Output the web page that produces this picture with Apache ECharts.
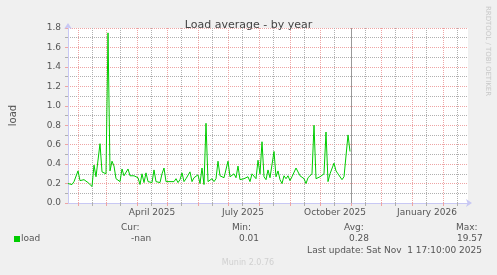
<!DOCTYPE html>
<html><head><meta charset="utf-8">
<script src="https://cdn.jsdelivr.net/npm/echarts@6/dist/echarts.min.js"></script>
<style>html,body{margin:0;padding:0;background:#f0f0f0}#c{width:497px;height:275px}</style>
</head><body><div id="c"></div>
<script>
const chartTitle = 'Load average - by year';
const seriesName = 'load';
const yAxisName = 'load';
const startDate = '2025-01-22';
const stepDays = 2;
const loadValues = [
  0.20,0.21,0.19,0.22,0.21,0.33,0.23,0.22,0.24,0.23,
  0.21,0.20,0.17,0.39,0.27,0.25,0.61,0.32,0.32,0.30,
  1.75,0.33,0.43,0.38,0.25,0.23,0.22,0.35,0.28,0.27,
  0.35,0.28,0.27,0.28,0.27,0.26,0.19,0.30,0.21,0.31,
  0.22,0.24,0.21,0.34,0.22,0.23,0.21,0.30,0.36,0.22,
  0.20,0.22,0.20,0.22,0.25,0.21,0.24,0.31,0.22,0.25,
  0.23,0.32,0.22,0.26,0.24,0.29,0.20,0.36,0.19,0.82,
  0.22,0.20,0.25,0.22,0.25,0.43,0.28,0.27,0.26,0.28,
  0.43,0.27,0.25,0.30,0.26,0.38,0.24,0.22,0.25,0.23,
  0.27,0.22,0.30,0.29,0.25,0.44,0.30,0.63,0.27,0.24,
  0.34,0.26,0.27,0.53,0.27,0.33,0.24,0.20,0.28,0.25,
  0.28,0.23,0.27,0.25,0.36,0.37,0.28,0.30,0.25,0.20,
  0.26,0.27,0.30,0.80,0.25,0.24,0.27,0.28,0.30,0.73,
  0.22,0.30,0.32,0.41,0.33,0.30,0.28,0.24,0.27,0.27,
  0.70,0.53
];
const axisStart = '2025-01-22';
const axisEnd = '2026-02-26';
const monthTicks = ['2025-02-01','2025-03-01','2025-04-01','2025-05-01','2025-06-01','2025-07-01',
  '2025-08-01','2025-09-01','2025-10-01','2025-11-01','2025-12-01','2026-01-01','2026-02-01'];
const halfMonthTicks = ['2025-02-15','2025-03-15','2025-04-15','2025-05-15','2025-06-15','2025-07-15',
  '2025-08-15','2025-09-15','2025-10-15','2025-11-15','2025-12-15','2026-01-15','2026-02-15'];
const labelDates = ['2025-04-16','2025-07-16','2025-10-16','2026-01-16'];
const tickLabels = ['April 2025','July 2025','October 2025','January 2026'];
const nowDate = '2025-11-01';
const yMin = 0, yMax = 1.8, yStep = 0.2;
const yMinorTicks = [0.1,0.3,0.5,0.7,0.9,1.1,1.3,1.5,1.7];
const statLabels = ['Cur:','Min:','Avg:','Max:'];
const statValues = ['-nan','0.01','0.28','19.57'];
const lastUpdate = 'Last update: Sat Nov  1 17:10:00 2025';
const versionText = 'Munin 2.0.76';
const watermark = 'RRDTOOL / TOBI OETIKER';

const DAY = 86400000;
const t = s => Date.UTC(+s.slice(0,4), +s.slice(5,7)-1, +s.slice(8,10));
const t0 = t(startDate);
const seriesData = loadValues.map((v,i) => [t0 + i*stepDays*DAY, v]);
const labelTimes = labelDates.map(t);

const FONT = 'DejaVu Sans';
const TXT = '#555';
const RED = '#eea4a4';
const GRAY = '#b0b0b0';
const AXIS = '#c8c8f4';

const chart = echarts.init(document.getElementById('c'), null, {renderer:'canvas'});

const statX = [[121,131],[232,239],[344,349],[456,457]];
const graphics = [];
statLabels.forEach((s,i) => {
  graphics.push({type:'text', silent:true, style:{text:s, x:statX[i][0], y:228, fill:TXT, font:'9px "'+FONT+'"', textVerticalAlign:'middle'}});
  graphics.push({type:'text', silent:true, style:{text:statValues[i], x:statX[i][1], y:239, fill:TXT, font:'9px "'+FONT+'"', textVerticalAlign:'middle'}});
});
graphics.push({type:'rect', silent:true, shape:{x:14, y:236, width:6, height:6}, style:{fill:'#00cc00'}});
graphics.push({type:'text', silent:true, style:{text:seriesName, x:21, y:239, fill:TXT, font:'9px "'+FONT+'"', textVerticalAlign:'middle'}});
graphics.push({type:'text', silent:true, style:{text:lastUpdate, x:482, y:251, fill:TXT, font:'9px "'+FONT+'"', textAlign:'right', textVerticalAlign:'middle'}});
graphics.push({type:'text', silent:true, style:{text:versionText, x:248, y:263, fill:'#d0d0d0', font:'8px "'+FONT+'"', textAlign:'center', textVerticalAlign:'middle'}});
graphics.push({type:'text', silent:true, x:487.5, y:51, rotation:-Math.PI/2, style:{text:watermark, x:0, y:0, fill:'#c8c8c8', font:'7px "'+FONT+'"', textAlign:'center', textVerticalAlign:'middle'}});

chart.setOption({
  animation:false,
  backgroundColor:'#f0f0f0',
  textStyle:{fontFamily:FONT},
  title:{text:chartTitle, left:'center', top:15, textStyle:{fontSize:11, fontWeight:'normal', color:'#444', fontFamily:FONT}},
  grid:{left:67, right:29, top:28, bottom:72, show:true, backgroundColor:'#fff', borderWidth:0, containLabel:false},
  xAxis:[{
    type:'value', min:t(axisStart), max:t(axisEnd),
    axisLine:{show:false},
    axisTick:{show:true, length:3, customValues:halfMonthTicks.map(t), lineStyle:{color:GRAY}},
    axisLabel:{show:false},
    splitLine:{show:true, lineStyle:{color:GRAY, type:[1,1], width:1}}
  },{
    type:'value', min:t(axisStart), max:t(axisEnd), position:'bottom',
    axisLine:{show:true, lineStyle:{color:AXIS, width:1}, symbol:['none','arrow'], symbolSize:[6,6], symbolOffset:[0,4]},
    axisTick:{show:true, length:3, customValues:monthTicks.map(t), lineStyle:{color:RED}},
    axisLabel:{show:true, customValues:labelTimes, margin:5, fontSize:9, color:TXT, fontFamily:FONT,
      formatter:v => { const i = labelTimes.indexOf(v); return i>=0 ? tickLabels[i] : ''; }},
    splitLine:{show:true, lineStyle:{color:RED, type:[1,1], width:1}}
  }],
  yAxis:[{
    type:'value', min:yMin, max:yMax,
    axisLine:{show:false},
    axisTick:{show:true, length:3, customValues:yMinorTicks, lineStyle:{color:GRAY}},
    axisLabel:{show:false},
    splitLine:{show:true, lineStyle:{color:GRAY, type:[1,1], width:1}}
  },{
    type:'value', min:yMin, max:yMax, interval:yStep, position:'left',
    name:yAxisName, nameLocation:'middle', nameGap:50, nameRotate:90,
    nameTextStyle:{fontSize:10, color:TXT, fontFamily:FONT},
    axisLine:{show:true, lineStyle:{color:AXIS, width:1}, symbol:['none','arrow'], symbolSize:[6,6], symbolOffset:[0,5]},
    axisTick:{show:true, length:3, lineStyle:{color:RED}},
    axisLabel:{margin:7, fontSize:9, color:TXT, fontFamily:FONT, formatter:v => v.toFixed(1)},
    splitLine:{show:true, lineStyle:{color:RED, type:[1,1], width:1}}
  }],
  series:[{
    name:seriesName, type:'line', xAxisIndex:1, yAxisIndex:1, data:seriesData, showSymbol:false, symbol:'none',
    lineStyle:{color:'#00cc00', width:1}, itemStyle:{color:'#00cc00'}, z:5,
    markLine:{silent:true, symbol:['none','none'], label:{show:false},
      lineStyle:{color:'#999', type:'solid', width:1}, data:[{xAxis:t(nowDate)}]}
  }],
  graphic:graphics
});
</script>
</body></html>
